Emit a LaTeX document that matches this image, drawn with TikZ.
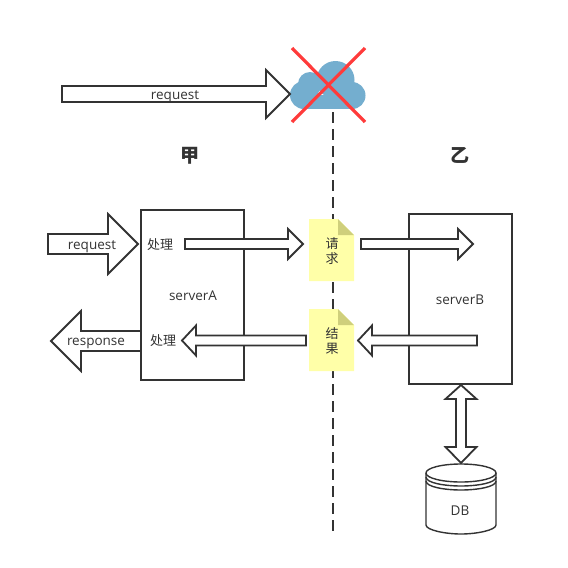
\documentclass[tikz,border=0pt]{standalone}
\usepackage{fontspec}
\setmainfont{Open Sans}
\newfontfamily\cjkfont{Noto Sans CJK SC}
\definecolor{inkgray}{HTML}{333333}
\definecolor{cloudblue}{HTML}{74AECF}
\definecolor{crossred}{HTML}{FF3B3B}
\definecolor{noteyellow}{HTML}{FFFFA8}
\definecolor{foldyellow}{HTML}{CFCF7C}
\tikzset{
  blockarrow/.style={draw=inkgray, fill=white, line width=1.8pt, miter limit=10},
  serverbox/.style={draw=inkgray, line width=1.8pt, minimum width=103pt, minimum height=170pt, inner sep=0pt},
  label/.style={text=inkgray, inner sep=0pt, text height=13pt, text depth=3pt, font=\fontsize{13.5}{15}\selectfont},
  cjklabel/.style={text=inkgray, inner sep=0pt, font=\cjkfont\fontsize{13}{15}\selectfont, align=center},
  titlelabel/.style={text=inkgray, inner sep=0pt, font=\cjkfont\bfseries\fontsize{19}{20}\selectfont},
  dbline/.style={draw=inkgray, line width=1.4pt}
}
\begin{document}
\begin{tikzpicture}[x=1pt, y=-1pt]
\useasboundingbox (0,0) rectangle (568,568);
\fill[white] (0,0) rectangle (568,568);

% cloud and the dashed line
\draw[inkgray, line width=2pt, dash pattern=on 11pt off 6pt] (333,112)--(333,535);
\fill[cloudblue] (335.5,80) circle (19);
\fill[cloudblue] (304,95) circle (14);
\fill[cloudblue] (310,84) circle (12);
\fill[cloudblue] (352,95.5) circle (13.5);
\fill[cloudblue] (304,95)--(352,95)--(352,109)--(304,109)--cycle;
\draw[crossred, line width=3.2pt] (292,48)--(365,122);
\draw[crossred, line width=3.2pt] (365,48)--(292,122);

% top arrow
\draw[blockarrow] (62,86)--++(204,0)--++(0,-16)--++(24,24)--++(-24,24)--++(0,-16)--++(-204,0)--cycle;
\node[label] (topreq) at (175,94) {request};

\node[titlelabel] (jia) at (190,155.5) {\cjkfont 甲};
\node[titlelabel] (yi) at (460,155.5) {\cjkfont 乙};

% response goes under the box
\draw[blockarrow] (141,331)--++(-60,0)--++(0,-20)--++(-30,30)--++(30,30)--++(0,-20)--++(60,0)--cycle;

\node[serverbox] (serverA) at (192.5,295) {};
\node[label] (serverAtext) at (193,295) {serverA};
\node[serverbox] (serverB) at (460.5,299) {};
\node[label] (serverBtext) at (460,299) {serverB};

% request arrow
\draw[blockarrow] (48,234)--++(60,0)--++(0,-20)--++(30,30)--++(-30,30)--++(0,-20)--++(-60,0)--cycle;
\node[label] (reqtext) at (92,244) {request};
\node[label] (resptext) at (96,340.5) {response};
\node[cjklabel] (procA) at (160,245) {处理};
\node[cjklabel] (procB) at (163,341) {处理};

% notes
\fill[noteyellow] (309,219)--++(29,0)--++(16,16)--++(0,46)--++(-45,0)--cycle;
\fill[foldyellow] (338,219)--++(16,16)--++(-16,0)--cycle;
\fill[noteyellow] (309,309)--++(29,0)--++(16,16)--++(0,46)--++(-45,0)--cycle;
\fill[foldyellow] (338,309)--++(16,16)--++(-16,0)--cycle;
\node[cjklabel] (qingqiu) at (332,251) {请\\求};
\node[cjklabel] (jieguo) at (332,341) {结\\果};

% flat arrows
\draw[blockarrow] (185,239)--++(103,0)--++(0,-10)--++(15,15)--++(-15,15)--++(0,-10)--++(-103,0)--cycle;
\draw[blockarrow] (361,239)--++(97,0)--++(0,-10)--++(15,15)--++(-15,15)--++(0,-10)--++(-97,0)--cycle;
\draw[blockarrow] (306,335.5)--++(-110,0)--++(0,-10)--++(-14,15)--++(14,15)--++(0,-10)--++(110,0)--cycle;
\draw[blockarrow] (477,335.5)--++(-105,0)--++(0,-10)--++(-14,15)--++(14,15)--++(0,-10)--++(105,0)--cycle;

% double arrow to db
\draw[blockarrow] (461,385)--++(15.5,14)--++(-10.5,0)--++(0,48)--++(10.5,0)--++(-15.5,16)--++(-15.5,-16)--++(10.5,0)--++(0,-48)--++(-10.5,0)--cycle;

% db
\draw[dbline, fill=white] (426,473)--(426,525) .. controls (426,530) and (445,534) .. (461,534) .. controls (477,534) and (496,530) .. (496,525)--(496,473);
\draw[dbline] (426,477) .. controls (426,483) and (445,486) .. (461,486) .. controls (477,486) and (496,483) .. (496,477);
\draw[dbline] (426,481) .. controls (426,487) and (445,490) .. (461,490) .. controls (477,490) and (496,487) .. (496,481);
\draw[dbline, fill=white] (461,473) ellipse (35 and 9);
\node[label] (dbtext) at (460,510) {DB};
\end{tikzpicture}
\end{document}
